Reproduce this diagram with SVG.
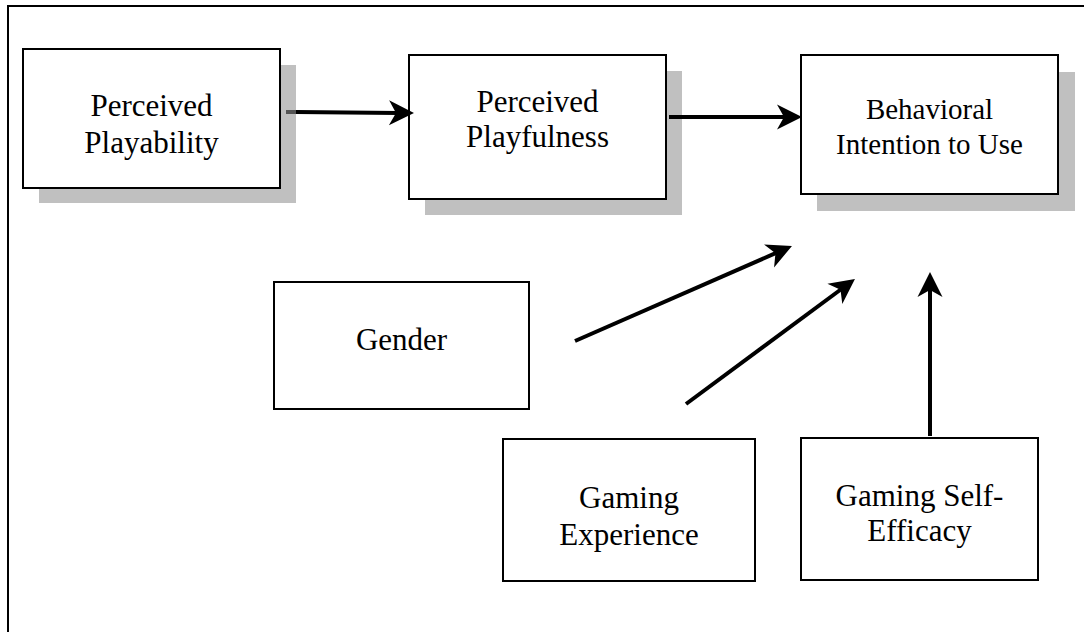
<svg xmlns="http://www.w3.org/2000/svg" width="1084" height="632" viewBox="0 0 1084 632">
  <style>
    .frame { fill: none; stroke: #000; stroke-width: 2; }
    .box { fill: #fff; stroke: #000; stroke-width: 2; }
    .shadow { fill: #c0c0c0; stroke: none; }
    .lbl { font-family: "Liberation Serif", "Times New Roman", serif; font-size: 31px; fill: #000; text-anchor: middle; }
    .lbl29 { font-size: 29px; }
    .conn { fill: none; stroke: #000; stroke-width: 4; marker-end: url(#arrow); }
  </style>
  <defs>
    <marker id="arrow" markerUnits="userSpaceOnUse" viewBox="-27 -14 29 28" markerWidth="29" markerHeight="28" refX="-16" refY="0" orient="auto">
      <path d="M0,0 L-25,-12.5 L-18,0 L-25,12.5 Z" fill="#000"/>
    </marker>
  </defs>
  <rect width="1084" height="632" fill="#fff"/>
  <rect class="frame" x="8" y="6" width="1100" height="700"/>

  <g id="perceived-playability">
    <rect class="shadow" x="39" y="65" width="257" height="138"/>
    <rect class="box" x="23" y="49" width="257" height="139"/>
    <text class="lbl" x="151.5" y="116">Perceived</text>
    <text class="lbl" x="151.5" y="153">Playability</text>
  </g>

  <g id="perceived-playfulness">
    <rect class="shadow" x="425" y="71" width="257" height="144"/>
    <rect class="box" x="409" y="55" width="257" height="144"/>
    <text class="lbl" x="537.5" y="112">Perceived</text>
    <text class="lbl" x="537.5" y="147">Playfulness</text>
  </g>

  <g id="behavioral-intention">
    <rect class="shadow" x="817" y="72" width="258" height="139"/>
    <rect class="box" x="801" y="55" width="257" height="139"/>
    <text class="lbl lbl29" x="929.5" y="119">Behavioral</text>
    <text class="lbl lbl29" x="929.5" y="154">Intention to Use</text>
  </g>

  <g id="gender">
    <rect class="box" x="274" y="282" width="255" height="127"/>
    <text class="lbl" x="401.5" y="350">Gender</text>
  </g>

  <g id="gaming-experience">
    <rect class="box" x="503" y="439" width="252" height="142"/>
    <text class="lbl" x="629" y="508">Gaming</text>
    <text class="lbl" x="629" y="545">Experience</text>
  </g>

  <g id="gaming-self-efficacy">
    <rect class="box" x="801" y="438" width="237" height="142"/>
    <text class="lbl" x="919.5" y="506">Gaming Self-</text>
    <text class="lbl" x="919.5" y="541">Efficacy</text>
  </g>

  <g id="connectors">
    <line x1="286" y1="112" x2="296" y2="112" stroke="#555" stroke-width="4"/>
    <path class="conn" d="M296,112 L398,112.9"/>
    <path class="conn" d="M669,117 L786,117"/>
    <path class="conn" d="M575,341 L777.3,252.4"/>
    <path class="conn" d="M686,404 L842.1,288.5"/>
    <path class="conn" d="M930,436 L930,288"/>
  </g>
</svg>
